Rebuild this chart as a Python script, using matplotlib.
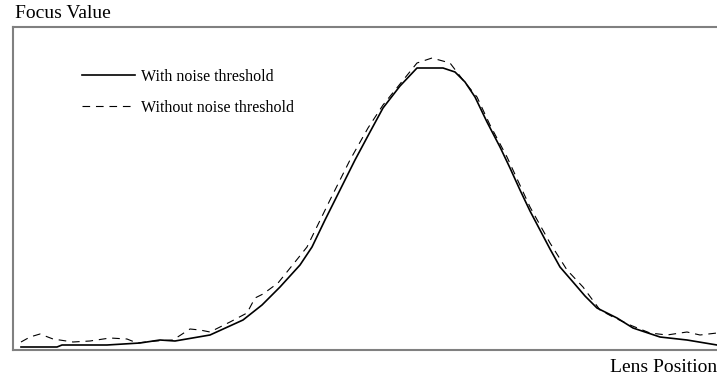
import matplotlib
matplotlib.use("Agg")
import matplotlib.pyplot as plt
import numpy as np

# lens positions / focus values
pos_with = [21, 57, 62, 107, 140, 160, 175, 210, 243, 262, 280, 300, 312, 325, 340,
            355, 370, 383, 400, 417, 443, 455, 465, 475, 487, 500, 510, 520, 530,
            540, 550, 560, 573, 585, 597, 617, 633, 660, 687, 717]
fv_with = [3, 3, 5, 5, 7, 10, 9, 15, 30, 45, 63, 85, 103, 130, 160,
           190, 218, 242, 264, 282, 282, 278, 268, 253, 228, 203, 182, 160, 139,
           120, 101, 83, 68, 54, 42, 32, 22, 13, 10, 5]

pos_without = [21, 30, 40, 53, 73, 90, 110, 127, 137, 155, 173, 190, 200, 210, 230,
               247, 255, 263, 278, 295, 307, 330, 350, 368, 383, 400, 417, 432, 450,
               463, 477, 490, 507, 530, 550, 567, 583, 600, 613, 630, 650, 667, 687,
               700, 717]
fv_without = [8, 13, 16, 11, 8, 9, 12, 11, 7, 9, 10, 21, 20, 18, 28,
              37, 52, 56, 67, 88, 103, 150, 190, 222, 245, 266, 287, 292, 287,
              270, 253, 225, 193, 143, 107, 80, 63, 40, 33, 25, 17, 15, 18,
              15, 17]

plt.rcParams['font.family'] = ['Liberation Serif', 'DejaVu Serif']
plt.rcParams['lines.scale_dashes'] = False

fig = plt.figure(figsize=(7.17, 3.78), dpi=100)
ax = fig.add_axes([13 / 717, 28 / 378, 704 / 717, 323 / 378])

ax.plot(pos_with, fv_with, color='black', lw=1.2, label='With noise threshold')
ax.plot(pos_without, fv_without, color='black', lw=0.8, dashes=(5.5, 4.2),
        label='Without noise threshold')

ax.set_xlim(13, 717)
ax.set_ylim(0, 323)
ax.set_xticks([])
ax.set_yticks([])
for s in ['left', 'top', 'bottom']:
    ax.spines[s].set_color('#808080')
    ax.spines[s].set_linewidth(1.5)
ax.spines['right'].set_visible(False)

ax.legend(loc='upper left', bbox_to_anchor=(0.098, 0.87), frameon=False,
          fontsize=11.5, handlelength=3.3, handletextpad=0.42, labelspacing=0.94,
          borderpad=0, borderaxespad=0)

fig.text(15 / 717, 1 - 13 / 378, 'Focus Value', fontsize=14, va='center', ha='left')
fig.text(717 / 717, 1 - 368 / 378, 'Lens Position', fontsize=14, va='center', ha='right')

fig.savefig('out.png', dpi=100)
